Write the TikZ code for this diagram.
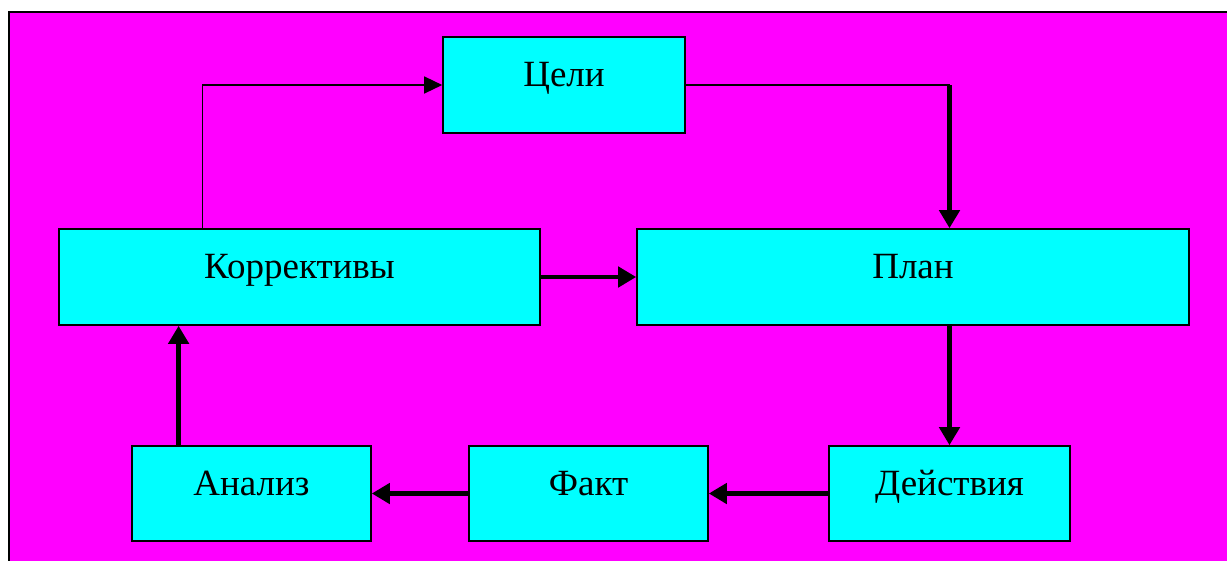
\documentclass[tikz,border=0pt]{standalone}
\usepackage{fontspec}
\setmainfont{Liberation Serif}
\usetikzlibrary{arrows.meta,calc}
\definecolor{bgmag}{HTML}{FF00FF}
\definecolor{boxcyan}{HTML}{00FFFF}
\tikzset{
  stagebox/.style={draw=black, line width=1.6pt, fill=boxcyan, inner sep=0pt,
    font=\fontsize{37}{42}\selectfont, text height=15pt, text depth=12pt},
  flowthick/.style={line width=4.5pt, -{Triangle[length=18pt,width=20pt]}},
  flowthin/.style={line width=1.4pt, -{Triangle[length=18pt,width=17pt]}},
  linkthin/.style={line width=1.4pt},
}
\begin{document}
\begin{tikzpicture}[x=1pt,y=-1pt]
  \useasboundingbox (0,0) rectangle (1227,560);
  % background panel
  \draw[fill=bgmag, line width=2pt] (9,12) rectangle (1245,580);

  % stages
  \node[stagebox, minimum width=242pt, minimum height=96pt] (celi) at (564,85) {Цели};
  \node[stagebox, minimum width=481pt, minimum height=96pt] (korr) at (299.5,277) {Коррективы};
  \node[stagebox, minimum width=552pt, minimum height=96pt] (plan) at (913,277) {План};
  \node[stagebox, minimum width=239pt, minimum height=95pt] (anal) at (251.5,493.5) {Анализ};
  \node[stagebox, minimum width=239pt, minimum height=95pt] (fakt) at (588.5,493.5) {Факт};
  \node[stagebox, minimum width=241pt, minimum height=95pt] (dey) at (949.5,493.5) {Действия};

  % helper points on box edges
  \coordinate (kup) at ($(korr.north west)!0.2994!(korr.north east)$);
  \coordinate (turn) at (celi.east -| dey.north);
  \coordinate (aup) at ($(anal.north west)!0.197!(anal.north east)$);

  % connectors
  \draw[flowthin] (kup) |- (celi.west);
  \draw[linkthin] (celi.east) -- (turn);
  \draw[flowthick] (turn) -- (turn |- plan.north);
  \draw[flowthick] (korr.east) -- (plan.west);
  \draw[flowthick] (plan.south -| dey.north) -- (dey.north);
  \draw[flowthick] (dey.west) -- (fakt.east);
  \draw[flowthick] (fakt.west) -- (anal.east);
  \draw[flowthick] (aup) -- (aup |- korr.south);
\end{tikzpicture}
\end{document}
